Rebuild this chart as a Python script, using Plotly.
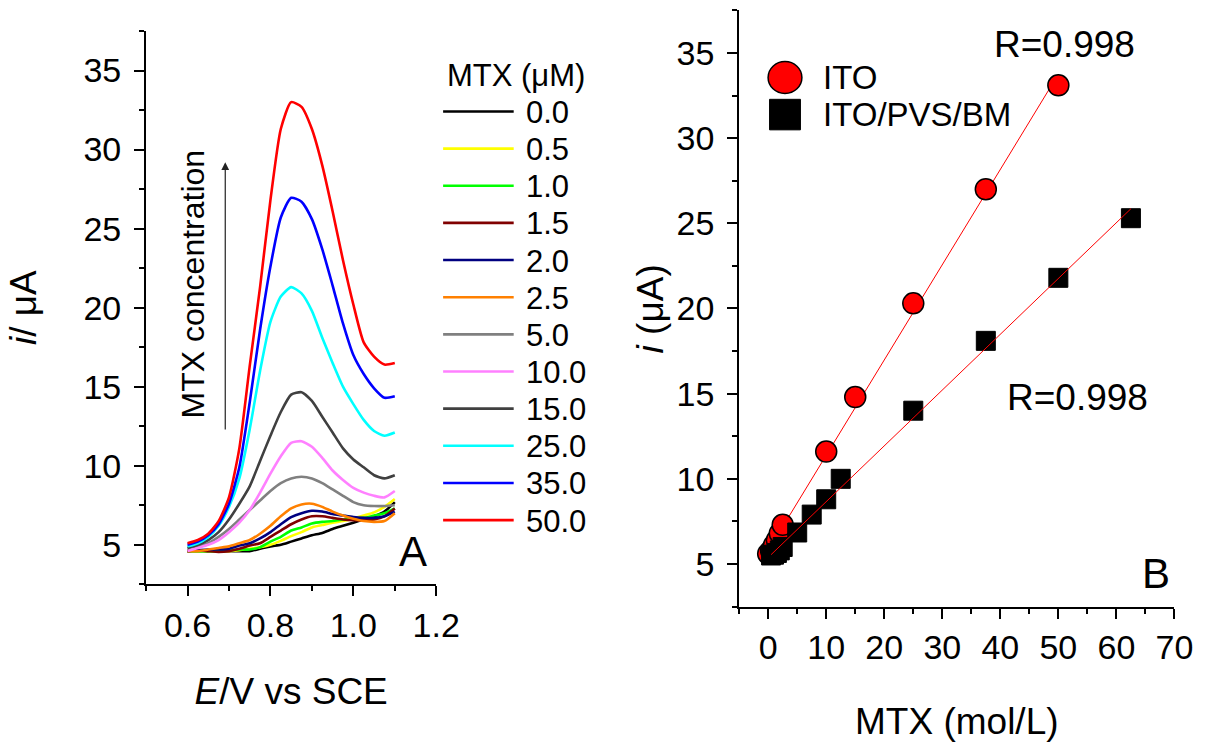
import numpy as np
import plotly.graph_objects as go

# ---------------- Panel A data: DPV curves ----------------
E = [0.600, 0.625, 0.650, 0.675, 0.700, 0.725, 0.750, 0.775, 0.800, 0.825, 0.850,
     0.875, 0.900, 0.925, 0.950, 0.975, 1.000, 1.025, 1.050, 1.075, 1.100]

conc_labels = ["0.0", "0.5", "1.0", "1.5", "2.0", "2.5", "5.0", "10.0", "15.0", "25.0", "35.0", "50.0"]
curve_colors = ["#000000", "#FFFF00", "#00FF00", "#800000", "#000080", "#FF8000",
                "#808080", "#FF80FF", "#404040", "#00FFFF", "#0000FF", "#FF0000"]

i_0_0 = [4.6, 4.6, 4.6, 4.6, 4.6, 4.6, 4.6, 4.75, 4.9, 5.0, 5.2, 5.4, 5.6, 5.75, 6.0, 6.2, 6.4, 6.6, 6.8, 7.1, 7.7]
i_0_5 = [4.6, 4.6, 4.6, 4.6, 4.6, 4.65, 4.75, 4.85, 5.0, 5.25, 5.55, 5.8, 6.1, 6.25, 6.4, 6.5, 6.65, 6.85, 7.05, 7.4, 7.9]
i_1_0 = [4.6, 4.6, 4.6, 4.6, 4.65, 4.7, 4.7, 4.85, 5.2, 5.5, 5.9, 6.1, 6.35, 6.45, 6.5, 6.6, 6.65, 6.7, 6.85, 7.0, 7.3]
i_1_5 = [4.6, 4.65, 4.6, 4.55, 4.6, 4.75, 4.95, 5.1, 5.5, 5.9, 6.3, 6.6, 6.8, 6.8, 6.7, 6.6, 6.55, 6.55, 6.6, 6.8, 7.3]
i_2_0 = [4.6, 4.65, 4.7, 4.7, 4.75, 4.95, 5.1, 5.4, 5.8, 6.3, 6.75, 7.0, 7.15, 7.1, 6.95, 6.85, 6.75, 6.7, 6.7, 6.8, 7.1]
i_2_5 = [4.6, 4.6, 4.7, 4.8, 4.9, 5.1, 5.3, 5.7, 6.2, 6.8, 7.3, 7.55, 7.6, 7.4, 7.1, 6.85, 6.65, 6.5, 6.45, 6.5, 7.0]
i_5_0 = [4.8, 4.9, 5.1, 5.5, 6.0, 6.6, 7.2, 7.8, 8.4, 8.9, 9.2, 9.3, 9.2, 8.9, 8.5, 8.1, 7.7, 7.5, 7.45, 7.45, 7.5]
i_10_0 = [4.6, 4.8, 5.0, 5.3, 5.8, 6.4, 7.2, 8.3, 9.5, 10.6, 11.45, 11.55, 11.2, 10.5, 9.7, 9.1, 8.6, 8.3, 8.1, 8.0, 8.4]
i_15_0 = [4.8, 5.0, 5.3, 5.8, 6.6, 7.6, 8.7, 10.3, 11.9, 13.4, 14.5, 14.65, 14.1, 13.1, 12.1, 11.1, 10.4, 9.9, 9.4, 9.2, 9.4]
i_25_0 = [4.9, 5.1, 5.5, 6.2, 7.4, 9.2, 12.3, 16.0, 19.1, 20.7, 21.3, 20.9, 19.8, 18.1, 16.5, 15.0, 13.9, 12.9, 12.2, 11.9, 12.1]
i_35_0 = [5.0, 5.2, 5.6, 6.3, 7.6, 9.9, 14.0, 18.6, 22.6, 25.7, 26.95, 26.7, 25.6, 23.7, 21.4, 19.0, 17.0, 15.8, 14.9, 14.3, 14.4]
i_50_0 = [5.1, 5.3, 5.7, 6.5, 8.0, 11.1, 16.3, 21.3, 26.8, 31.3, 33.0, 32.7, 31.3, 29.0, 26.1, 23.0, 20.2, 17.8, 16.9, 16.4, 16.5]

curves = [i_0_0, i_0_5, i_1_0, i_1_5, i_2_0, i_2_5, i_5_0, i_10_0, i_15_0, i_25_0, i_35_0, i_50_0]

# ---------------- Panel B data: calibration ----------------
ito_x = [0, 0.5, 1.0, 1.5, 2.0, 2.5, 10, 15, 25, 37.5, 50]
ito_y = [5.6, 5.8, 6.1, 6.4, 6.8, 7.3, 11.6, 14.8, 20.3, 27.0, 33.1]
bm_x = [0.5, 1.0, 1.5, 2.0, 2.5, 5, 7.5, 10, 12.5, 25, 37.5, 50, 62.5]
bm_y = [5.5, 5.55, 5.65, 5.8, 6.0, 6.85, 7.9, 8.8, 10.0, 14.0, 18.1, 21.8, 25.3]

W, H = 1220, 742
FONT = "Arial, Liberation Sans, sans-serif"


def px(x):
    return x / W


def py(y):
    return 1 - y / H


fig = go.Figure()

# Panel A curves
for lab, col, vals in zip(conc_labels, curve_colors, curves):
    fig.add_trace(go.Scatter(x=E, y=vals, mode="lines", name=lab,
                             line=dict(color=col, width=2.6, shape="spline", smoothing=0.6),
                             xaxis="x", yaxis="y", showlegend=False))

# Panel B fits and markers
ito_fit = np.polyfit(ito_x, ito_y, 1)
bm_fit = np.polyfit(bm_x, bm_y, 1)
ito_fx = [min(ito_x), max(ito_x)]
bm_fx = [min(bm_x), max(bm_x)]

fig.add_trace(go.Scatter(x=ito_fx, y=list(np.polyval(ito_fit, ito_fx)), mode="lines",
                         line=dict(color="#FF0000", width=1), xaxis="x2", yaxis="y2",
                         showlegend=False, name="ITO fit"))
fig.add_trace(go.Scatter(x=ito_x, y=ito_y, mode="markers", name="ITO",
                         marker=dict(symbol="circle", size=21, color="#FF0000",
                                     line=dict(color="#000000", width=1.5)),
                         xaxis="x2", yaxis="y2", showlegend=False))
fig.add_trace(go.Scatter(x=bm_x, y=bm_y, mode="markers", name="ITO/PVS/BM",
                         marker=dict(symbol="square", size=19, color="#000000",
                                     line=dict(color="#000000", width=1)),
                         xaxis="x2", yaxis="y2", showlegend=False))
fig.add_trace(go.Scatter(x=bm_fx, y=list(np.polyval(bm_fit, bm_fx)), mode="lines",
                         line=dict(color="#FF0000", width=1), xaxis="x2", yaxis="y2",
                         showlegend=False, name="ITO/PVS/BM fit"))

tickfont = dict(family=FONT, size=34, color="black")
titlefont = dict(family=FONT, size=37, color="black")

common = dict(showgrid=False, zeroline=False, showline=True, linecolor="black", linewidth=2,
              ticks="outside", ticklen=10, tickwidth=2, tickcolor="black", tickfont=tickfont)

domA_x = [px(149), px(445)]
domA_y = [py(603), py(32)]
domB_x = [px(754), px(1198)]
domB_y = [py(626), py(10.7)]

fig.update_layout(
    width=W, height=H,
    margin=dict(l=0, r=0, t=0, b=0),
    paper_bgcolor="white", plot_bgcolor="white",
    showlegend=False,
    xaxis=dict(domain=domA_x, anchor="y", range=[0.5, 1.2], dtick=0.2, tick0=0.6, tickformat=".1f",
               minor=dict(dtick=0.1, ticks="outside", ticklen=5, tickwidth=2, tickcolor="black"),
               title=dict(text="<i>E</i>/V vs SCE", font=titlefont, standoff=35), **common),
    yaxis=dict(domain=domA_y, anchor="x", range=[2.5, 37.5], dtick=5, tick0=0,
               ticklabelstandoff=6,
               minor=dict(dtick=2.5, ticks="outside", ticklen=5, tickwidth=2, tickcolor="black"),
               title=dict(text="<i>i</i>/ μA", font=titlefont, standoff=35), **common),
    xaxis3=dict(overlaying="x", anchor="y", side="top", range=[0.5, 1.2], dtick=0.1, tick0=0.5,
                showticklabels=False, showgrid=False, zeroline=False, showline=True,
                linecolor="black", linewidth=2, ticks="inside", ticklen=5, tickwidth=1.5,
                tickcolor="black"),
    yaxis3=dict(overlaying="y", anchor="x", side="right", range=[2.5, 37.5], dtick=2.5, tick0=0,
                showticklabels=False, showgrid=False, zeroline=False, showline=True,
                linecolor="black", linewidth=2, ticks="inside", ticklen=5, tickwidth=1.5,
                tickcolor="black"),
    xaxis2=dict(domain=domB_x, anchor="y2", range=[-5, 70], dtick=10, tick0=0,
                minor=dict(dtick=5, ticks="outside", ticklen=5, tickwidth=2, tickcolor="black"),
                title=dict(text="MTX (mol/L)", font=titlefont, standoff=50), **common),
    yaxis2=dict(domain=domB_y, anchor="x2", range=[2.5, 37.5], dtick=5, tick0=0,
                ticklabelstandoff=6,
                minor=dict(dtick=2.5, ticks="outside", ticklen=5, tickwidth=2, tickcolor="black"),
                **common),
    xaxis4=dict(overlaying="x2", anchor="y2", side="top", range=[-5, 70], dtick=5, tick0=0,
                showticklabels=False, showgrid=False, zeroline=False, showline=True,
                linecolor="black", linewidth=2, ticks="inside", ticklen=5, tickwidth=1.5,
                tickcolor="black"),
    yaxis4=dict(overlaying="y2", anchor="x2", side="right", range=[2.5, 37.5], dtick=2.5, tick0=0,
                showticklabels=False, showgrid=False, zeroline=False, showline=True,
                linecolor="black", linewidth=2, ticks="inside", ticklen=5, tickwidth=1.5,
                tickcolor="black"),
)

annotations = []
shapes = []

# Panel B y-axis title (placed explicitly, left of the tick labels)
annotations.append(dict(x=px(664), y=(domB_y[0] + domB_y[1]) / 2, xref="paper", yref="paper",
                        text="<i>i</i> (μA)", textangle=-90, showarrow=False,
                        xanchor="center", yanchor="middle", font=titlefont))

# Panel A: arrow and label
annotations.append(dict(x=0.691, y=29.2, ax=0.691, ay=12.2, xref="x", yref="y", axref="x", ayref="y",
                        text="", showarrow=True, arrowhead=2, arrowsize=1.3, arrowwidth=1.2,
                        arrowcolor="#222222"))
annotations.append(dict(x=0.612, y=21.5, xref="x", yref="y", text="MTX concentration",
                        textangle=-90, showarrow=False, font=dict(family=FONT, size=32, color="black")))
annotations.append(dict(x=1.145, y=4.6, xref="x", yref="y", text="A", showarrow=False,
                        font=dict(family=FONT, size=42, color="black")))

# Panel A legend (manual, to match long line samples)
annotations.append(dict(x=px(454), y=py(78), xref="paper", yref="paper", xanchor="left", yanchor="middle",
                        text="MTX (μM)", showarrow=False, font=dict(family=FONT, size=31, color="black")))
for k, (lab, col) in enumerate(zip(conc_labels, curve_colors)):
    yc = 115 + k * 38.34
    shapes.append(dict(type="line", xref="paper", yref="paper", x0=px(452), x1=px(524),
                       y0=py(yc), y1=py(yc), line=dict(color=col, width=2.6)))
    annotations.append(dict(x=px(535), y=py(yc + 1), xref="paper", yref="paper", xanchor="left",
                            yanchor="middle", text=lab, showarrow=False,
                            font=dict(family=FONT, size=31, color="black")))

# Panel B annotations
annotations.append(dict(x=51.1, y=35.5, xref="x2", yref="y2", text="R=0.998", showarrow=False,
                        font=dict(family=FONT, size=37, color="black")))
annotations.append(dict(x=53.3, y=14.8, xref="x2", yref="y2", text="R=0.998", showarrow=False,
                        font=dict(family=FONT, size=37, color="black")))
annotations.append(dict(x=66.8, y=4.45, xref="x2", yref="y2", text="B", showarrow=False,
                        font=dict(family=FONT, size=42, color="black")))

# Panel B legend (manual)
shapes.append(dict(type="circle", xref="paper", yref="paper", x0=px(783.5), x1=px(818),
                   y0=py(96.5), y1=py(63.5), fillcolor="#FF0000", line=dict(color="black", width=1.5)))
shapes.append(dict(type="rect", xref="paper", yref="paper", x0=px(785), x1=px(816.5),
                   y0=py(134), y1=py(102.5), fillcolor="#000000", line=dict(color="black", width=1)))
annotations.append(dict(x=px(837), y=py(80), xref="paper", yref="paper", xanchor="left", yanchor="middle",
                        text="ITO", showarrow=False, font=dict(family=FONT, size=33, color="black")))
annotations.append(dict(x=px(837), y=py(118), xref="paper", yref="paper", xanchor="left", yanchor="middle",
                        text="ITO/PVS/BM", showarrow=False, font=dict(family=FONT, size=33, color="black")))

fig.update_layout(annotations=annotations, shapes=shapes)

fig.write_html("out.html")
